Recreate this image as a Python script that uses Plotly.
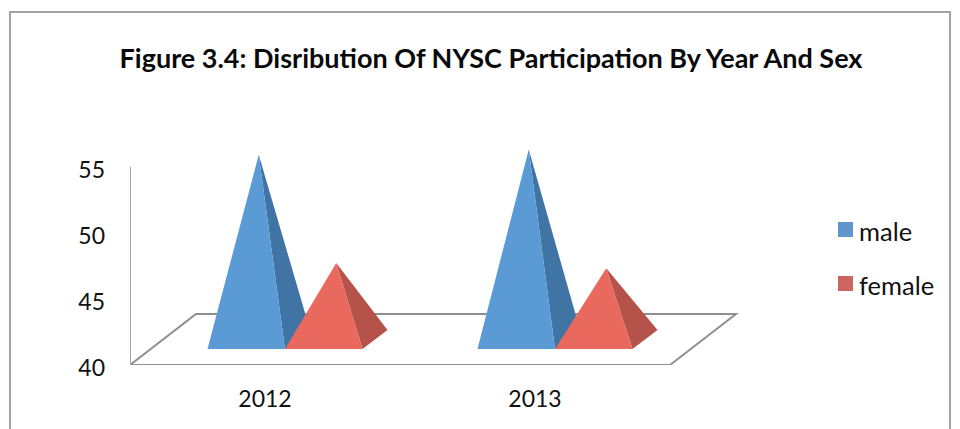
import plotly.graph_objects as go

# ---- data ----
years = ["2012", "2013"]
male = [54.0, 54.4]
female = [45.8, 45.4]
y_ticks = [40, 45, 50, 55]
series_names = ["male", "female"]
title_text = "Figure 3.4: Disribution Of NYSC Participation By Year And Sex"

# ---- layout constants ----
W, H = 960, 429
L, R, T, B = 130, 190, 130, 64
PX_X = 270.0                 # px per category
PX_Y = 13.2                  # px per value unit
Y0 = 40
X0 = 0.5
x_max = X0 + (W - L - R) / PX_X
y_max = Y0 + (H - T - B) / PX_Y

FLOOR_DX = 66 / PX_X
FLOOR_DY = 51 / PX_Y
BAR_W = 77.5 / PX_X
GROUP_START = -57.5 / PX_X
BASE_LIFT = 16 / PX_Y
BASE_DX = 25 / PX_X
BASE_DY = 19 / PX_Y

FONT = "Lato"
TXT = "#111111"
colors = {
    "male": ("#5b9bd5", "#3f74a5", "#5f97cd"),
    "female": ("#e9695f", "#b5524a", "#cc6560"),
}
plot_w = W - L - R
plot_h = H - T - B
fx = lambda px: (px - L) / plot_w
fy = lambda py: 1 - (py - T) / plot_h

fig = go.Figure()


def face(xs, ys, color, name):
    fig.add_trace(go.Scatter(x=xs, y=ys, mode="lines", fill="toself", fillcolor=color, name=name,
                             line=dict(width=0, color=color), hoverinfo="skip",
                             showlegend=False))


for i, cat in enumerate(years):
    c = i + 1
    for j, (name, vals) in enumerate(zip(series_names, (male, female))):
        front, side, _ = colors[name]
        xl = c + GROUP_START + j * BAR_W
        xr = xl + BAR_W
        yb = Y0 + BASE_LIFT
        ax = (xl + xr) / 2 + BASE_DX / 2
        # value is measured from the floor up, starting at the centre of the base
        apex_y = vals[i] + BASE_LIFT + BASE_DY / 2
        face([xr, xr + BASE_DX, ax, xr], [yb, yb + BASE_DY, apex_y, yb], side, name)
        face([xl, xr, ax, xl], [yb, yb, apex_y, yb], front, name)

x1_floor = X0 + 2
floor_path = (f"M {X0},{Y0} L {X0 + FLOOR_DX},{Y0 + FLOOR_DY} "
              f"L {x1_floor + FLOOR_DX},{Y0 + FLOOR_DY} L {x1_floor},{Y0} Z")
frame_path = (f"M {fx(10)},{fy(432)} L {fx(10)},{fy(12)} L {fx(950)},{fy(12)} L {fx(950)},{fy(432)}")

shapes = [
    dict(type="path", path=floor_path, xref="x", yref="y", layer="below",
         line=dict(color="#8f8f8f", width=2)),
    dict(type="line", xref="x", yref="y", x0=X0, x1=X0, y0=Y0, y1=55, layer="below",
         line=dict(color="#a6a6a6", width=2)),
    dict(type="path", path=frame_path, xref="paper", yref="paper", layer="below",
         line=dict(color="#a3a3a3", width=2)),
]
annotations = []
for name, top in zip(series_names, (222, 276)):
    shapes.append(dict(type="rect", xref="paper", yref="paper",
                       x0=fx(838), x1=fx(853), y0=fy(top), y1=fy(top + 15),
                       fillcolor=colors[name][2], line=dict(width=0)))
    annotations.append(dict(text=name, xref="paper", yref="paper", x=fx(857), y=fy(top + 9),
                            xanchor="left", yanchor="middle", showarrow=False,
                            font=dict(family=FONT, size=25.5, color=TXT)))

fig.update_layout(
    width=W, height=H, autosize=False,
    margin=dict(l=L, r=R, t=T, b=B),
    paper_bgcolor="white", plot_bgcolor="white",
    font=dict(family=FONT, size=23, color=TXT),
    title=dict(text=f"<b>{title_text}</b>", font=dict(family=FONT, size=27, color="#0a0a0a"),
               xref="container", yref="container", x=491 / W, xanchor="center",
               y=1 - 59 / H, yanchor="middle"),
    xaxis=dict(range=[X0, x_max], tickmode="array", tickvals=[1, 2], ticktext=years,
               showgrid=False, zeroline=False, showline=False, ticks="",
               ticklabelstandoff=18, fixedrange=True),
    yaxis=dict(range=[Y0, y_max], tickmode="array", tickvals=y_ticks,
               ticktext=[str(v) for v in y_ticks],
               showgrid=False, zeroline=False, showline=False, ticks="",
               ticklabelstandoff=24, ticklabelshift=3, fixedrange=True),
    showlegend=False,
    shapes=shapes,
    annotations=annotations,
)

fig.write_html("out.html", config=dict(displayModeBar=False),
               post_script="document.body.style.margin='0';document.body.style.overflow='hidden';")
